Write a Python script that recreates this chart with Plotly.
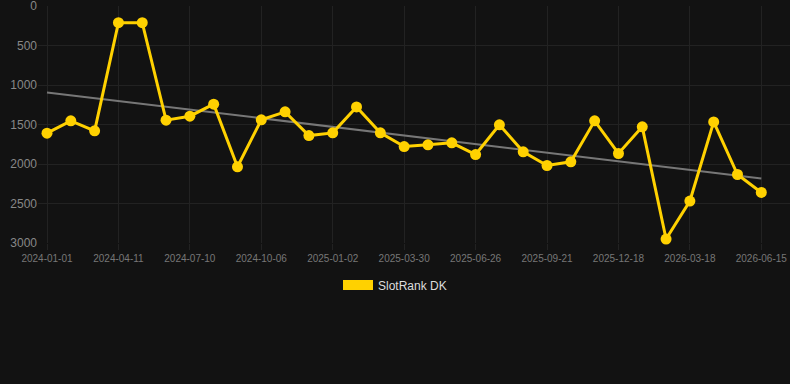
import numpy as np
import plotly.graph_objects as go

dates = [
    "2024-01-01", "2024-02-04", "2024-03-09", "2024-04-11", "2024-05-11", "2024-06-10",
    "2024-07-10", "2024-08-08", "2024-09-07", "2024-10-06", "2024-11-04", "2024-12-04",
    "2025-01-02", "2025-01-31", "2025-03-01", "2025-03-30", "2025-04-28", "2025-05-28",
    "2025-06-26", "2025-07-25", "2025-08-23", "2025-09-21", "2025-10-20", "2025-11-19",
    "2025-12-18", "2026-01-17", "2026-02-16", "2026-03-18", "2026-04-17", "2026-05-16",
    "2026-06-15",
]
rank = [
    1610, 1454, 1580, 211, 211, 1445, 1395, 1243, 2035, 1441, 1340, 1640,
    1606, 1277, 1606, 1779, 1757, 1732, 1880, 1504, 1846, 2019, 1972, 1454,
    1867, 1530, 2950, 2469, 1467, 2133, 2360,
]
series_name = "SlotRank DK"
y_ticks = [0, 500, 1000, 1500, 2000, 2500, 3000]

idx = np.arange(len(rank))
slope, intercept = np.polyfit(idx, np.array(rank, dtype=float), 1)
trend = slope * idx + intercept

shown = dates[::3]

YELLOW = "#FFD100"
BG = "#121212"
GRID = "#222222"

fig = go.Figure()
fig.add_trace(go.Scatter(
    x=dates, y=trend, mode="lines",
    line=dict(color="#777777", width=2), showlegend=False, hoverinfo="skip",
))
fig.add_trace(go.Scatter(
    x=dates, y=rank, mode="lines+markers", name=series_name,
    line=dict(color=YELLOW, width=3), marker=dict(color=YELLOW, size=11),
    cliponaxis=False, showlegend=False,
))
fig.add_trace(go.Scatter(
    x=[None], y=[None], mode="lines", name=series_name,
    line=dict(color=YELLOW, width=11), showlegend=True,
))

fig.update_layout(
    width=790, height=384,
    margin=dict(l=38, r=0, t=6, b=141),
    paper_bgcolor=BG, plot_bgcolor=BG,
    font=dict(family="Liberation Sans, Arial, sans-serif", color="#888888"),
    legend=dict(
        orientation="h", xref="container", yref="container",
        x=0.5, xanchor="center", y=1 - 285 / 384, yanchor="middle",
        font=dict(size=12, color="#dddddd"), bgcolor="rgba(0,0,0,0)",
    ),
    xaxis=dict(
        type="category", categoryorder="array", categoryarray=dates,
        range=[-0.378, 31.205],
        tickmode="array", tickvals=shown, ticktext=shown,
        tickfont=dict(size=10, color="#777777"),
        showgrid=True, gridcolor=GRID, gridwidth=1,
        ticks="outside", ticklen=6, tickcolor=GRID,
        showline=False, zeroline=False,
        ticklabeloverflow="allow",
    ),
    yaxis=dict(
        range=[3000, 0], tickmode="array", tickvals=y_ticks,
        tickfont=dict(size=12, color="#888888"),
        showgrid=True, gridcolor=GRID, gridwidth=1,
        showline=False, zeroline=False, ticks="",
        ticklabeloverflow="allow",
    ),
)

fig.write_html("out.html")
